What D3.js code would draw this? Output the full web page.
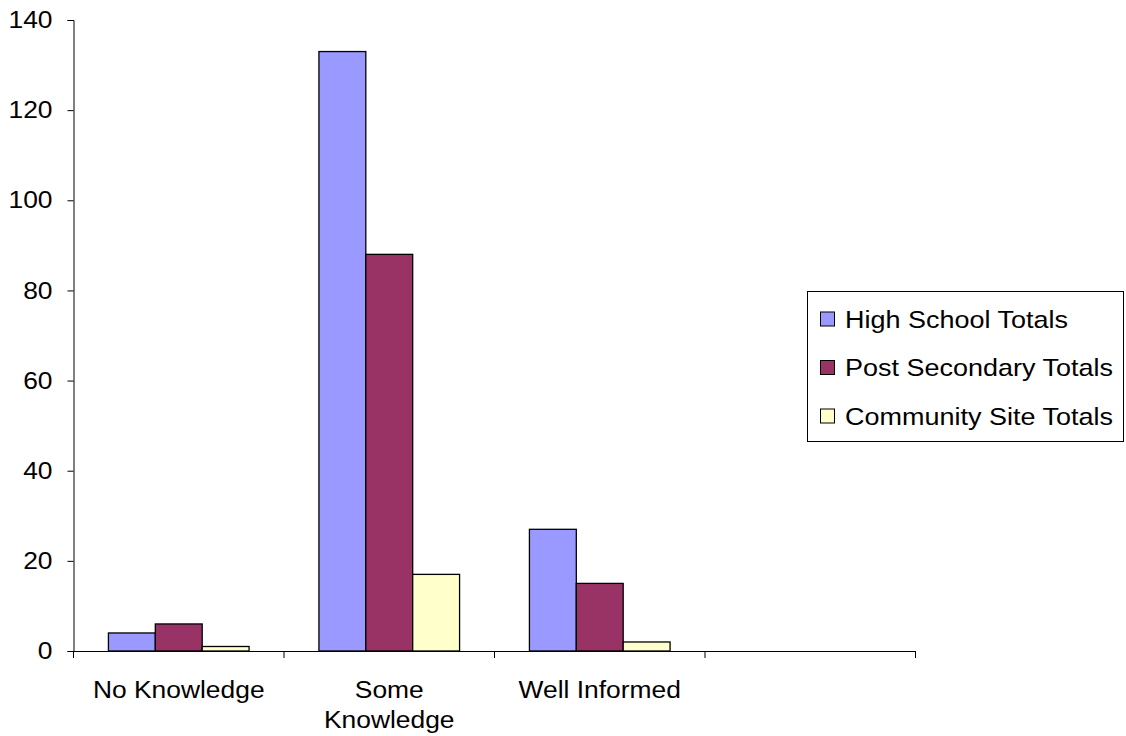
<!DOCTYPE html>
<html>
<head>
<meta charset="utf-8">
<script src="https://cdn.jsdelivr.net/npm/d3@7"></script>
<style>
  body { margin: 0; background: #fff; }
  text { font-family: "Liberation Sans", Arial, sans-serif; fill: #000; }
</style>
</head>
<body>
<div id="chart"></div>
<script>
// categories (the last slot is empty in the original chart)
let categories = ["No Knowledge", "Some Knowledge", "Well Informed", ""];
let series = ["High School Totals", "Post Secondary Totals", "Community Site Totals"];
let highSchool = [4, 133, 27, 0];
let postSecondary = [6, 88, 15, 0];
let communitySite = [1, 17, 2, 0];
let yTicks = [0, 20, 40, 60, 80, 100, 120, 140];
let colors = ["#9999ff", "#993366", "#ffffcc"];

let values = [highSchool, postSecondary, communitySite];
let stretch = 1.1; // the original text is a bit wider than Arial

let svg = d3.select("#chart")
            .append("svg")
            .attr("width", 1126)
            .attr("height", 736);

let x = d3.scaleBand()
    .domain(categories)
    .range([73.5, 915.5])
    .padding(0);

let xSub = d3.scaleBand()
    .domain(series)
    .range([0, x.bandwidth()])
    .paddingInner(0)
    .paddingOuter(0.745);

let y = d3.scaleLinear()
    .domain([0, 140])
    .range([651, 20]);

function wideText(parent, tx, ty, anchor, sx) {
    return parent.append("text")
        .attr("transform", `translate(${tx},${ty}) scale(${sx || stretch},1)`)
        .attr("text-anchor", anchor)
        .style("font-size", "24px");
}

// bars
categories.forEach((cat, i) => {
    if (cat === "") return;
    series.forEach((s, j) => {
        let v = values[j][i];
        svg.append("rect")
            .attr("x", x(cat) + xSub(s))
            .attr("y", y(v))
            .attr("width", xSub.bandwidth())
            .attr("height", y(0) - y(v))
            .style("fill", colors[j])
            .style("stroke", "#000")
            .style("stroke-width", 1.3);
    });
});

// y axis
let yAxis = svg.append("g")
    .attr("transform", "translate(73.5,0)")
    .call(d3.axisLeft(y).tickValues(yTicks).tickSize(6).tickPadding(15).tickFormat(d3.format("d")));
yAxis.select(".domain").attr("stroke", "#000");
yAxis.selectAll(".tick text")
    .style("font-size", "24px")
    .attr("fill", "#000")
    .attr("transform", function() { return `translate(${this.getAttribute("x")},0) scale(${stretch},1)`; })
    .attr("x", 0);

// x axis: ticks on slot borders
let xBorders = categories.map(c => x(c)).concat([x(categories[categories.length - 1]) + x.bandwidth()]);
svg.append("line")
    .attr("x1", x.range()[0]).attr("x2", x.range()[1])
    .attr("y1", y(0) + 0.5).attr("y2", y(0) + 0.5)
    .attr("stroke", "#000");
svg.selectAll(".xtick")
    .data(xBorders)
    .enter().append("line")
    .attr("class", "xtick")
    .attr("x1", d => d).attr("x2", d => d)
    .attr("y1", y(0)).attr("y2", y(0) + 7)
    .attr("stroke", "#000");

// category labels (wrap "Some Knowledge")
let labelLines = {"No Knowledge": ["No Knowledge"], "Some Knowledge": ["Some", "Knowledge"], "Well Informed": ["Well Informed"], "": []};
categories.forEach(cat => {
    let t = wideText(svg, x(cat) + x.bandwidth() / 2, 698, "middle");
    labelLines[cat].forEach((line, k) => {
        t.append("tspan")
            .attr("x", 0)
            .attr("dy", k === 0 ? 0 : 30)
            .text(line);
    });
});

// legend
let legend = svg.append("g");
legend.append("rect")
    .attr("x", 807.5).attr("y", 291.5)
    .attr("width", 316).attr("height", 150)
    .style("fill", "#fff").style("stroke", "#000");
series.forEach((s, j) => {
    let cy = 319 + j * 48.5;
    legend.append("rect")
        .attr("x", 820.5).attr("y", cy - 7)
        .attr("width", 14).attr("height", 14)
        .style("fill", colors[j]).style("stroke", "#000");
    wideText(legend, 845, cy + 8.5, "start", 1.125).text(s);
});
</script>
</body>
</html>
